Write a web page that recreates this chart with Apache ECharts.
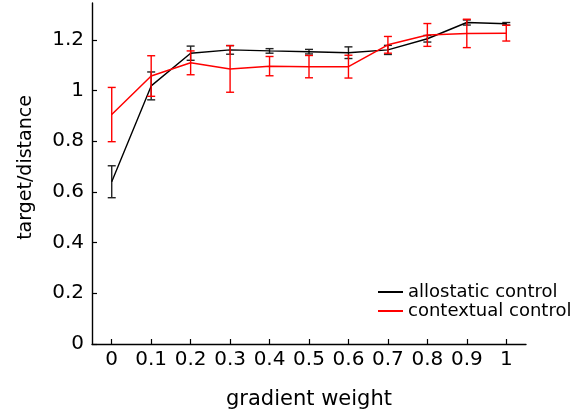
<!DOCTYPE html>
<html>
<head>
<meta charset="utf-8">
<script src="https://cdn.jsdelivr.net/npm/echarts@6/dist/echarts.min.js"></script>
<style>
html,body{margin:0;padding:0;background:#fff;}
#chart{width:582px;height:419px;}
</style>
</head>
<body>
<div id="chart"></div>
<script>
var weights = [0, 0.1, 0.2, 0.3, 0.4, 0.5, 0.6, 0.7, 0.8, 0.9, 1];
var allostaticMean = [0.64, 1.018, 1.147, 1.160, 1.156, 1.153, 1.149, 1.160, 1.204, 1.268, 1.263];
var allostaticErr  = [0.063, 0.055, 0.028, 0.017, 0.009, 0.009, 0.023, 0.018, 0.013, 0.010, 0.005];
var contextualMean = [0.905, 1.057, 1.109, 1.085, 1.096, 1.094, 1.094, 1.180, 1.219, 1.225, 1.226];
var contextualErr  = [0.107, 0.080, 0.047, 0.092, 0.038, 0.044, 0.045, 0.033, 0.045, 0.056, 0.031];
var xTicks = [0, 0.1, 0.2, 0.3, 0.4, 0.5, 0.6, 0.7, 0.8, 0.9, 1];
var yTicks = [0, 0.2, 0.4, 0.6, 0.8, 1, 1.2];
var seriesNames = ['allostatic control', 'contextual control'];
var colors = ['#000000', '#ff0000'];

var FONT = 'DejaVu Sans';

function pairs(xs, ys) { return xs.map(function (x, i) { return [x, ys[i]]; }); }
function errData(xs, m, e) { return xs.map(function (x, i) { return [x, m[i] - e[i], m[i] + e[i]]; }); }

function errRender(color) {
  return function (params, api) {
    var x = api.value(0);
    var lo = api.coord([x, api.value(1)]);
    var hi = api.coord([x, api.value(2)]);
    var hw = 4;
    var st = { stroke: color, lineWidth: 1.4 };
    return {
      type: 'group',
      children: [
        { type: 'line', shape: { x1: lo[0], y1: lo[1], x2: hi[0], y2: hi[1] }, style: st },
        { type: 'line', shape: { x1: lo[0] - hw, y1: lo[1], x2: lo[0] + hw, y2: lo[1] }, style: st },
        { type: 'line', shape: { x1: hi[0] - hw, y1: hi[1], x2: hi[0] + hw, y2: hi[1] }, style: st }
      ]
    };
  };
}

var chart = echarts.init(document.getElementById('chart'), null, { renderer: 'canvas' });
chart.setOption({
  animation: false,
  backgroundColor: '#ffffff',
  grid: { left: 92, right: 56, top: 3, bottom: 75, containLabel: false },
  legend: {
    orient: 'vertical',
    left: 373,
    top: 278,
    itemWidth: 25,
    itemHeight: 2,
    itemGap: 1,
    icon: 'rect',
    data: seriesNames,
    textStyle: { fontFamily: FONT, fontSize: 18, color: '#000', padding: [0, 0, 0, 0] }
  },
  xAxis: {
    type: 'value',
    min: -0.05,
    max: 1.05,
    name: 'gradient weight',
    nameLocation: 'middle',
    nameGap: 45,
    nameTextStyle: { fontFamily: FONT, fontSize: 21, color: '#000' },
    axisLine: { show: true, onZero: false, lineStyle: { color: '#000', width: 1.4 } },
    axisTick: { show: true, inside: true, length: 5, customValues: xTicks, lineStyle: { color: '#000', width: 1.2 } },
    axisLabel: { customValues: xTicks, margin: 6, fontFamily: FONT, fontSize: 20, color: '#000',
      formatter: function (v) { return String(v); } },
    splitLine: { show: false }
  },
  yAxis: {
    type: 'value',
    min: 0,
    max: 1.345,
    name: 'target/distance',
    nameLocation: 'middle',
    nameGap: 56,
    nameTextStyle: { fontFamily: FONT, fontSize: 19, color: '#000', padding: [0, 0, 0, 12] },
    axisLine: { show: true, onZero: false, lineStyle: { color: '#000', width: 1.4 } },
    axisTick: { show: true, inside: true, length: 5, customValues: yTicks, lineStyle: { color: '#000', width: 1.2 } },
    axisLabel: { customValues: yTicks, margin: 8, fontFamily: FONT, fontSize: 20, color: '#000',
      formatter: function (v) { return String(v); } },
    splitLine: { show: false }
  },
  series: [
    {
      name: seriesNames[0], type: 'line', data: pairs(weights, allostaticMean),
      showSymbol: false, symbol: 'none', lineStyle: { color: colors[0], width: 1.4 },
      itemStyle: { color: colors[0] }, z: 3
    },
    {
      name: seriesNames[0] + ' err', type: 'custom', data: errData(weights, allostaticMean, allostaticErr),
      renderItem: errRender('#222'), z: 3, encode: { x: 0, y: [1, 2] }
    },
    {
      name: seriesNames[1], type: 'line', data: pairs(weights, contextualMean),
      showSymbol: false, symbol: 'none', lineStyle: { color: colors[1], width: 1.5 },
      itemStyle: { color: colors[1] }, z: 4
    },
    {
      name: seriesNames[1] + ' err', type: 'custom', data: errData(weights, contextualMean, contextualErr),
      renderItem: errRender(colors[1]), z: 4, encode: { x: 0, y: [1, 2] }
    }
  ]
});
</script>
</body>
</html>
